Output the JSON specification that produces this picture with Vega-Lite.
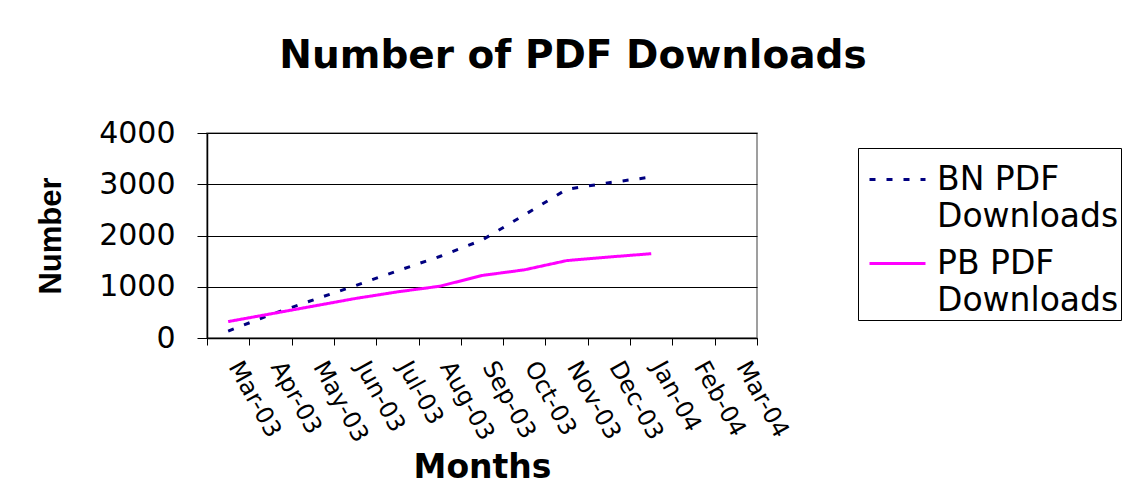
{
  "$schema": "https://vega.github.io/schema/vega-lite/v6.json",
  "width": 550,
  "height": 205,
  "autosize": "none",
  "padding": {"left": 207, "top": 133, "right": 370, "bottom": 164},
  "background": "white",
  "title": {"text": "Number of PDF Downloads", "font": "DejaVu Sans", "fontSize": 39, "fontWeight": "bold", "color": "black", "anchor": "middle", "dx": 91, "offset": 42},
  "config": {"view": {"stroke": "#808080", "strokeWidth": 1.5}},
  "data": {"values": [
    {"month": "Mar-03", "series": "BN PDF Downloads", "value": 135},
    {"month": "Apr-03", "series": "BN PDF Downloads", "value": 455},
    {"month": "May-03", "series": "BN PDF Downloads", "value": 740},
    {"month": "Jun-03", "series": "BN PDF Downloads", "value": 1020},
    {"month": "Jul-03", "series": "BN PDF Downloads", "value": 1310},
    {"month": "Aug-03", "series": "BN PDF Downloads", "value": 1590},
    {"month": "Sep-03", "series": "BN PDF Downloads", "value": 1910},
    {"month": "Oct-03", "series": "BN PDF Downloads", "value": 2400},
    {"month": "Nov-03", "series": "BN PDF Downloads", "value": 2900},
    {"month": "Dec-03", "series": "BN PDF Downloads", "value": 3030},
    {"month": "Jan-04", "series": "BN PDF Downloads", "value": 3140},
    {"month": "Mar-03", "series": "PB PDF Downloads", "value": 320},
    {"month": "Apr-03", "series": "PB PDF Downloads", "value": 470},
    {"month": "May-03", "series": "PB PDF Downloads", "value": 620},
    {"month": "Jun-03", "series": "PB PDF Downloads", "value": 770},
    {"month": "Jul-03", "series": "PB PDF Downloads", "value": 900},
    {"month": "Aug-03", "series": "PB PDF Downloads", "value": 1010},
    {"month": "Sep-03", "series": "PB PDF Downloads", "value": 1220},
    {"month": "Oct-03", "series": "PB PDF Downloads", "value": 1330},
    {"month": "Nov-03", "series": "PB PDF Downloads", "value": 1510},
    {"month": "Dec-03", "series": "PB PDF Downloads", "value": 1580},
    {"month": "Jan-04", "series": "PB PDF Downloads", "value": 1645}
  ]},
  "mark": {"type": "line", "strokeWidth": 3},
  "encoding": {
    "x": {
      "field": "month", "type": "ordinal",
      "scale": {"type": "band", "domain": ["Mar-03","Apr-03","May-03","Jun-03","Jul-03","Aug-03","Sep-03","Oct-03","Nov-03","Dec-03","Jan-04","Feb-04","Mar-04"], "paddingInner": 0, "paddingOuter": 0},
      "axis": {
        "labelAngle": 61, "labelAlign": "left", "labelBaseline": "top",
        "labelFont": "DejaVu Sans", "labelFontSize": 24, "labelColor": "black",
        "labelPadding": 12, "labelOffset": 16, "tickBand": "extent", "tickSize": 7, "tickColor": "black",
        "domainColor": "black", "domainWidth": 1.5, "grid": false,
        "title": "Months", "titleFont": "DejaVu Sans", "titleFontSize": 33, "titleFontWeight": "bold", "titleColor": "black", "titlePadding": 6
      }
    },
    "y": {
      "field": "value", "type": "quantitative",
      "scale": {"domain": [0, 4000]},
      "axis": {
        "values": [0, 1000, 2000, 3000, 4000], "format": "d",
        "labelFont": "DejaVu Sans", "labelFontSize": 30, "labelColor": "black", "labelPadding": 22,
        "tickSize": 10, "tickColor": "black", "domainColor": "black", "domainWidth": 1.5,
        "grid": true, "gridColor": "black", "gridWidth": 1,
        "title": "Number", "titleFont": "Liberation Sans", "titleFontSize": 31, "titleFontWeight": "bold", "titleColor": "black", "titlePadding": 31
      }
    },
    "color": {
      "field": "series", "type": "nominal",
      "scale": {"domain": ["BN PDF Downloads", "PB PDF Downloads"], "range": ["#000080", "#FF00FF"]},
      "legend": {
        "orient": "none", "legendX": 651, "legendY": 15, "title": null,
        "strokeColor": "black", "fillColor": "white", "padding": 2, "cornerRadius": 0,
        "labelFont": "DejaVu Sans", "labelFontSize": 33, "labelColor": "black", "labelLimit": 400,
        "labelExpr": "[substring(datum.label, 0, 6), substring(datum.label, 7) + '\u00a0\u00a0\u00a0']",
        "symbolType": "stroke", "symbolSize": 3136, "symbolStrokeWidth": 3, "symbolOffset": 8, "labelOffset": 10, "rowPadding": 0,
        "encode": {"labels": {"update": {"lineHeight": {"value": 37}}}}
      }
    },
    "strokeDash": {
      "field": "series", "type": "nominal",
      "scale": {"domain": ["BN PDF Downloads", "PB PDF Downloads"], "range": [[6, 11], [1, 0]]},
      "legend": {
        "orient": "none", "legendX": 651, "legendY": 15, "title": null,
        "strokeColor": "black", "fillColor": "white", "padding": 2, "cornerRadius": 0,
        "labelFont": "DejaVu Sans", "labelFontSize": 33, "labelColor": "black", "labelLimit": 400,
        "labelExpr": "[substring(datum.label, 0, 6), substring(datum.label, 7) + '\u00a0\u00a0\u00a0']",
        "symbolType": "stroke", "symbolSize": 3136, "symbolStrokeWidth": 3, "symbolOffset": 8, "labelOffset": 10, "rowPadding": 0,
        "encode": {"labels": {"update": {"lineHeight": {"value": 37}}}}
      }
    }
  }
}
